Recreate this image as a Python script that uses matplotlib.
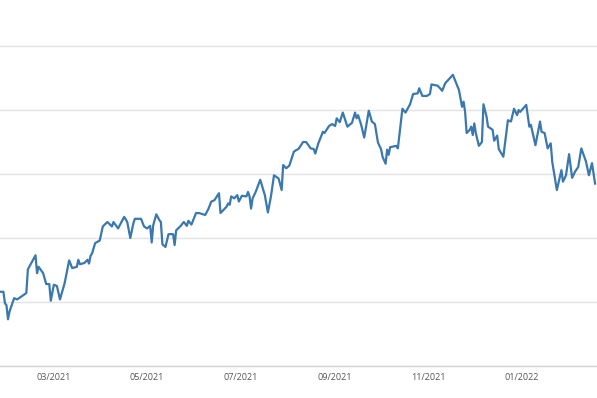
import pandas as pd
import matplotlib
matplotlib.use("Agg")
import matplotlib.pyplot as plt
import matplotlib.dates as mdates

dates = [
    "2021-01-25", "2021-01-27", "2021-01-28", "2021-01-29", "2021-01-30", "2021-01-31",
    "2021-02-03", "2021-02-05", "2021-02-08", "2021-02-11", "2021-02-12", "2021-02-17",
    "2021-02-18", "2021-02-19", "2021-02-22", "2021-02-24", "2021-02-26", "2021-02-27",
    "2021-03-01", "2021-03-03", "2021-03-05", "2021-03-08", "2021-03-11", "2021-03-13",
    "2021-03-16", "2021-03-17", "2021-03-18", "2021-03-21", "2021-03-23", "2021-03-24",
    "2021-03-25", "2021-03-26", "2021-03-28", "2021-03-31", "2021-04-02", "2021-04-05",
    "2021-04-08", "2021-04-09", "2021-04-12", "2021-04-16", "2021-04-18", "2021-04-20",
    "2021-04-22", "2021-04-23", "2021-04-27", "2021-04-29", "2021-05-01", "2021-05-03",
    "2021-05-04", "2021-05-05", "2021-05-07", "2021-05-09", "2021-05-10", "2021-05-11",
    "2021-05-13", "2021-05-15", "2021-05-18", "2021-05-19", "2021-05-20", "2021-05-23",
    "2021-05-25", "2021-05-27", "2021-05-28", "2021-05-30", "2021-06-02", "2021-06-04",
    "2021-06-08", "2021-06-10", "2021-06-12", "2021-06-14", "2021-06-17", "2021-06-18",
    "2021-06-22", "2021-06-23", "2021-06-24", "2021-06-25", "2021-06-27", "2021-06-29",
    "2021-06-30", "2021-07-02", "2021-07-05", "2021-07-06", "2021-07-07", "2021-07-08",
    "2021-07-09", "2021-07-11", "2021-07-14", "2021-07-17", "2021-07-19", "2021-07-21",
    "2021-07-23", "2021-07-26", "2021-07-28", "2021-07-29", "2021-07-31", "2021-08-02",
    "2021-08-05", "2021-08-07", "2021-08-08", "2021-08-11", "2021-08-13", "2021-08-16",
    "2021-08-18", "2021-08-19", "2021-08-21", "2021-08-24", "2021-08-25", "2021-08-28",
    "2021-08-30", "2021-09-01", "2021-09-02", "2021-09-04", "2021-09-06", "2021-09-09",
    "2021-09-12", "2021-09-14", "2021-09-15", "2021-09-16", "2021-09-18", "2021-09-20",
    "2021-09-23", "2021-09-25", "2021-09-27", "2021-09-29", "2021-10-01", "2021-10-02",
    "2021-10-04", "2021-10-05", "2021-10-06", "2021-10-07", "2021-10-11", "2021-10-12",
    "2021-10-15", "2021-10-17", "2021-10-20", "2021-10-22", "2021-10-25", "2021-10-26",
    "2021-10-28", "2021-10-31", "2021-11-02", "2021-11-03", "2021-11-07", "2021-11-09",
    "2021-11-10", "2021-11-12", "2021-11-14", "2021-11-17", "2021-11-19", "2021-11-21",
    "2021-11-23", "2021-11-24", "2021-11-25", "2021-11-26", "2021-11-28", "2021-11-29",
    "2021-11-30", "2021-12-01", "2021-12-02", "2021-12-04", "2021-12-06", "2021-12-07",
    "2021-12-09", "2021-12-10", "2021-12-13", "2021-12-14", "2021-12-16", "2021-12-17",
    "2021-12-20", "2021-12-23", "2021-12-25", "2021-12-27", "2021-12-29", "2021-12-30",
    "2021-12-31", "2022-01-04", "2022-01-06", "2022-01-07", "2022-01-10", "2022-01-13",
    "2022-01-14", "2022-01-16", "2022-01-18", "2022-01-20", "2022-01-21", "2022-01-24",
    "2022-01-27", "2022-01-28", "2022-01-30", "2022-02-01", "2022-02-03", "2022-02-05",
    "2022-02-07", "2022-02-09", "2022-02-12", "2022-02-14", "2022-02-16", "2022-02-18",
]
values = [
    416, 416, 398, 395, 373, 385,
    406, 404, 409, 414, 451, 473,
    445, 455, 445, 428, 428, 402,
    427, 425, 404, 429, 465, 453,
    455, 466, 459, 461, 466, 460,
    472, 476, 492, 496, 518, 525,
    518, 525, 515, 533, 525, 500,
    523, 530, 530, 518, 515, 519,
    493, 520, 537, 528, 525, 490,
    486, 506, 506, 489, 512, 519,
    525, 519, 527, 521, 539, 539,
    536, 545, 557, 559, 570, 539,
    549, 554, 552, 565, 562, 567,
    557, 566, 565, 572, 565, 546,
    562, 572, 591, 567, 540, 565,
    598, 593, 575, 614, 609, 613,
    635, 638, 639, 650, 650, 640,
    639, 632, 648, 666, 664, 675,
    678, 675, 687, 681, 696, 674,
    680, 696, 687, 692, 677, 657,
    699, 682, 678, 649, 639, 627,
    616, 638, 630, 642, 644, 640,
    702, 696, 709, 725, 726, 734,
    722, 722, 725, 740, 738, 733,
    730, 742, 747, 755, 743, 731,
    705, 713, 697, 664, 669, 674,
    661, 679, 664, 644, 650, 709,
    690, 674, 669, 652, 660, 639,
    627, 684, 682, 702, 692, 700,
    697, 708, 674, 677, 645, 682,
    666, 664, 640, 648, 619, 575,
    606, 588, 598, 631, 594, 604,
    611, 640, 620, 598, 617, 585,
]
grid_levels = [300, 400, 500, 600, 700, 800]
tick_dates = ["2021-03-01", "2021-05-01", "2021-07-01", "2021-09-01", "2021-11-01", "2022-01-01"]

df = pd.DataFrame({"date": pd.to_datetime(dates), "value": values})

fig = plt.figure(figsize=(5.97, 3.98), dpi=100)
ax = fig.add_axes([0, 32 / 398, 1, 366 / 398])

for g in grid_levels:
    ax.axhline(g, color="#e3e3e3", lw=1.0, zorder=1)

ax.plot(df["date"], df["value"], color="#3b78ad", lw=1.6, zorder=3)

ax.set_xlim(pd.Timestamp("2021-01-24 18:30"), pd.Timestamp("2022-02-19 06:30"))
ax.set_ylim(300, 871.9)

ax.set_yticks([])
ax.set_xticks(pd.to_datetime(tick_dates))
ax.xaxis.set_major_formatter(mdates.DateFormatter("%m/%Y"))
ax.tick_params(axis="x", length=0, pad=5, labelsize=6.5, labelcolor="#555555")
for lbl in ax.get_xticklabels():
    lbl.set_fontfamily("Open Sans")

for side in ["top", "left", "right"]:
    ax.spines[side].set_visible(False)
ax.spines["bottom"].set_color("#d5d5d5")
ax.spines["bottom"].set_linewidth(1.0)

fig.savefig("out.png", dpi=100)
plt.close(fig)
